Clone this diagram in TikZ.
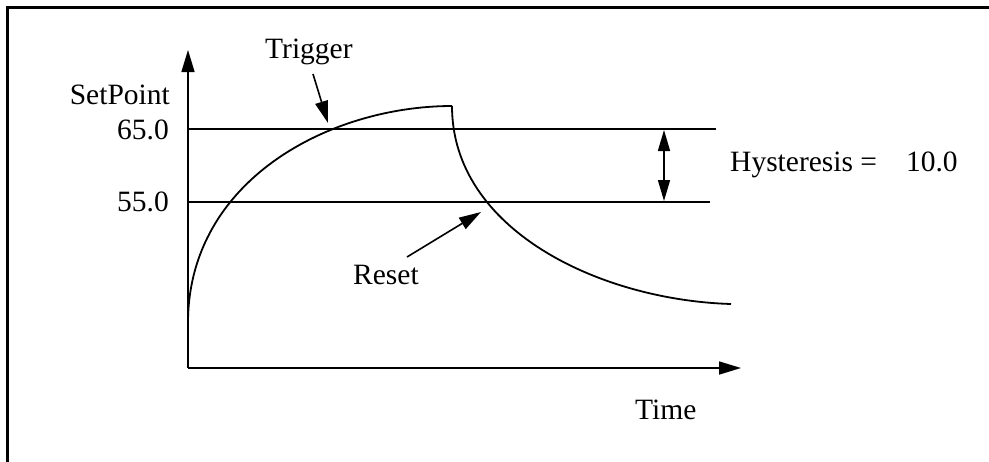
\documentclass[tikz,border=0pt]{standalone}
\usepackage{fontspec}
\setmainfont{Liberation Serif}
\usetikzlibrary{arrows.meta}
\begin{document}
\begin{tikzpicture}[x=1pt,y=-1pt,
  lbl/.style={inner sep=0pt,font=\fontsize{29.5}{34}\selectfont},
  ln/.style={line width=1.8pt},
  arr/.style={line width=1.6pt,-{Triangle[length=22pt,width=13pt]}},
  darr/.style={line width=1.6pt,{Triangle[length=21pt,width=12pt]}-{Triangle[length=21pt,width=12pt]}}]
\useasboundingbox (0,0) rectangle (989,461);
% frame
\draw[line width=2.2pt] (7.5,462) -- (7.5,7.5) -- (990,7.5);
% axes
\coordinate (O) at (188,368);
\coordinate (ytip) at (188,50);
\coordinate (xtip) at (741,368);
\draw[arr] (O) -- (ytip);
\draw[arr] (O) -- (xtip);
% levels
\coordinate (h65a) at (188,129);
\coordinate (h65b) at (716,129);
\coordinate (h55a) at (188,202);
\coordinate (h55b) at (710,202);
\draw[ln] (h65a) -- (h65b);
\draw[ln] (h55a) -- (h55b);
% hysteresis arrow
\coordinate (ha) at (664,130);
\coordinate (hb) at (664,201);
\draw[darr] (ha) -- (hb);
% curves
\coordinate (c0) at (188,323);
\coordinate (peak) at (452,106);
\coordinate (cend) at (731,304);
\draw[ln] (c0) .. controls (188,180) and (330,106) .. (peak);
\draw[ln] (peak) .. controls (452,230) and (600,300) .. (cend);
% labels
\node[lbl,anchor=base east] (setpoint) at (170,104) {SetPoint};
\node[lbl,anchor=base east] (l65) at (169,139) {65.0};
\node[lbl,anchor=base east] (l55) at (169,211) {55.0};
\node[lbl,anchor=base west] (trigger) at (265,58) {Trigger};
\node[lbl,anchor=base west] (reset) at (353,284) {Reset};
\node[lbl,anchor=base west] (time) at (635,419) {Time};
\node[lbl,anchor=base west] (hyst) at (730,171) {Hysteresis =\hspace{29pt}10.0};
% pointer arrows
\coordinate (tt) at (313,74);
\coordinate (th) at (328,123);
\draw[arr] (tt) -- (th);
\coordinate (rt) at (407,257);
\coordinate (rh) at (481,212);
\draw[arr] (rt) -- (rh);
\end{tikzpicture}
\end{document}
